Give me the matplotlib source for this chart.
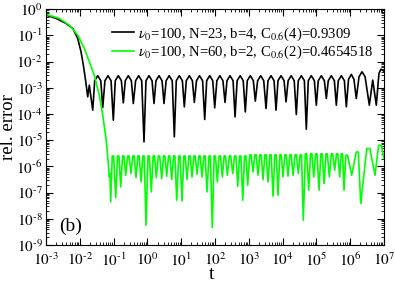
import numpy as np
import matplotlib
matplotlib.use("Agg")
import matplotlib.pyplot as plt

# --- values (log10 t, log10 rel. error) ---
# black: nu0=100, N=23, b=4
black_decay_logt = [-3.000, -2.704, -2.408, -2.210, -2.062, -1.964, -1.896, -1.837]
black_decay_loge = [-0.229, -0.355, -0.546, -0.737, -1.118, -1.630, -2.137, -2.645]

black_dip_logt = [-1.766, -1.618, -1.322, -1.009, -0.713, -0.417, -0.101, 0.195, 0.491, 0.796,
                  1.092, 1.388, 1.695, 1.991, 2.296, 2.592, 2.896, 3.192, 3.509, 3.805,
                  4.101, 4.405, 4.701, 4.997, 5.293, 5.589, 5.885, 6.180, 6.565, 6.772]
black_dip_loge = [-3.347, -3.855, -3.752, -4.237, -3.576, -3.599, -5.065, -3.599, -3.599, -4.874,
                  -3.729, -3.561, -4.210, -3.767, -3.561, -4.111, -3.920, -3.511, -3.790, -3.855,
                  -3.538, -4.019, -4.580, -3.664, -3.408, -3.664, -3.729, -3.408, -3.664, -3.664]

black_top_logt = [-1.719,
                  -1.560, -1.470, -1.380, -1.256, -1.166, -1.076, -0.951, -0.861, -0.771, -0.655, -0.565, -0.475, -0.349, -0.259, -0.169,
                  -0.043, 0.047, 0.137, 0.253, 0.343, 0.433, 0.554, 0.644, 0.734, 0.854, 0.944, 1.034, 1.150, 1.240, 1.330,
                  1.452, 1.542, 1.632, 1.753, 1.843, 1.933, 2.054, 2.144, 2.234, 2.354, 2.444, 2.534, 2.654, 2.744, 2.834,
                  2.954, 3.044, 3.134, 3.261, 3.351, 3.441, 3.567, 3.657, 3.747, 3.863, 3.953, 4.043, 4.163, 4.253, 4.343,
                  4.463, 4.553, 4.643, 4.759, 4.849, 4.939, 5.055, 5.145, 5.235, 5.351, 5.441, 5.531, 5.647, 5.737, 5.827,
                  5.950, 6.033, 6.110, 6.260, 6.349, 6.440, 6.666, 6.850, 6.911, 7.000]
black_top_loge = [-2.90,
                  -2.73, -2.54, -2.73, -2.73, -2.54, -2.73, -2.73, -2.54, -2.73, -2.73, -2.54, -2.73, -2.73, -2.54, -2.73,
                  -2.73, -2.54, -2.73, -2.73, -2.54, -2.73, -2.73, -2.54, -2.73, -2.73, -2.54, -2.73, -2.73, -2.54, -2.73,
                  -2.73, -2.54, -2.73, -2.73, -2.54, -2.73, -2.73, -2.54, -2.73, -2.73, -2.54, -2.73, -2.73, -2.54, -2.73,
                  -2.73, -2.54, -2.73, -2.73, -2.54, -2.73, -2.73, -2.54, -2.73, -2.73, -2.54, -2.73, -2.73, -2.54, -2.73,
                  -2.73, -2.54, -2.73, -2.73, -2.54, -2.73, -2.73, -2.54, -2.73, -2.73, -2.54, -2.73, -2.73, -2.54, -2.73,
                  -2.68, -2.49, -2.68, -2.58, -2.39, -2.58, -2.71, -2.45, -2.29, -2.37]

# green: nu0=100, N=60, b=2
green_decay_logt = [-3.000, -2.607, -2.311, -2.062, -1.867, -1.719, -1.571, -1.423, -1.322,
                    -1.225, -1.166, -1.127, -1.110]
green_decay_loge = [-0.202, -0.355, -0.611, -0.992, -1.500, -2.011, -2.519, -3.282, -4.046,
                    -4.935, -5.763, -6.401, -6.250]

green_dip_logt = [-1.086, -0.938, -0.790, -0.642, -0.485, -0.337, -0.189, -0.041,
                  0.115, 0.263, 0.423, 0.571, 0.719, 0.867,
                  1.024, 1.172, 1.320, 1.467, 1.615, 1.763, 1.920,
                  2.068, 2.216, 2.364, 2.524, 2.672, 2.820, 2.967,
                  3.124, 3.272, 3.420, 3.568, 3.716, 3.864,
                  4.012, 4.160, 4.308, 4.464, 4.612, 4.772, 4.920,
                  5.077, 5.225, 5.382, 5.541, 5.689, 5.817,
                  6.044, 6.311, 6.734, 7.000]
green_dip_loge = [-7.355, -7.187, -6.782, -6.336, -6.271, -6.424, -6.592, -8.244,
                  -6.973, -6.424, -6.462, -6.374, -6.500, -7.290,
                  -7.317, -6.500, -6.401, -6.298, -6.401, -6.973, -8.332,
                  -6.592, -6.401, -6.336, -6.271, -6.756, -7.290, -6.718,
                  -6.210, -6.336, -6.500, -6.592, -7.137, -7.099,
                  -6.401, -6.374, -6.336, -6.271, -8.053, -6.908, -6.401,
                  -6.908, -6.653, -6.401, -6.145, -6.401, -6.908,
                  -6.336, -7.416, -6.336, -5.687]

green_top_logt = [-1.040, -1.000, -0.884, -0.844, -0.736, -0.696, -0.584, -0.544, -0.431, -0.391,
                  -0.283, -0.243, -0.135, -0.095, 0.017, 0.057, 0.169, 0.209, 0.323, 0.363,
                  0.477, 0.517, 0.625, 0.665, 0.773, 0.813, 0.926, 0.966, 1.078, 1.118,
                  1.226, 1.266, 1.374, 1.414, 1.521, 1.561, 1.669, 1.709, 1.822, 1.862,
                  1.974, 2.014, 2.122, 2.162, 2.270, 2.310, 2.424, 2.464, 2.578, 2.618,
                  2.726, 2.766, 2.874, 2.914, 3.026, 3.066, 3.178, 3.218, 3.326, 3.366,
                  3.474, 3.514, 3.622, 3.662, 3.770, 3.810, 3.918, 3.958, 4.066, 4.106,
                  4.214, 4.254, 4.366, 4.406, 4.518, 4.558, 4.672, 4.712, 4.826, 4.866,
                  4.978, 5.018, 5.131, 5.171, 5.283, 5.323, 5.441, 5.481, 5.595, 5.635,
                  5.733, 5.773, 5.870, 5.920, 6.180, 6.240, 6.490, 6.580, 6.840, 6.920]
green_top_loge = [-5.60, -5.60, -5.60, -5.60, -5.60, -5.60, -5.60, -5.60, -5.60, -5.60,
                  -5.60, -5.60, -5.60, -5.60, -5.60, -5.60, -5.60, -5.60, -5.60, -5.60,
                  -5.60, -5.60, -5.60, -5.60, -5.60, -5.60, -5.60, -5.60, -5.60, -5.60,
                  -5.60, -5.60, -5.60, -5.60, -5.60, -5.60, -5.60, -5.60, -5.60, -5.60,
                  -5.60, -5.60, -5.60, -5.60, -5.60, -5.60, -5.60, -5.60, -5.60, -5.60,
                  -5.60, -5.60, -5.60, -5.60, -5.56, -5.56, -5.56, -5.56, -5.56, -5.56,
                  -5.56, -5.56, -5.56, -5.56, -5.56, -5.56, -5.56, -5.56, -5.56, -5.56,
                  -5.56, -5.56, -5.56, -5.56, -5.56, -5.56, -5.52, -5.52, -5.52, -5.52,
                  -5.52, -5.52, -5.52, -5.52, -5.52, -5.52, -5.52, -5.52, -5.52, -5.52,
                  -5.52, -5.52, -5.58, -5.57, -5.45, -5.45, -5.32, -5.32, -5.20, -5.20]

x_exponents = [-3, -2, -1, 0, 1, 2, 3, 4, 5, 6, 7]
y_exponents = [-9, -8, -7, -6, -5, -4, -3, -2, -1, 0]

black_label = r"$\nu_0$=100, N=23, b=4, C$_{0.6}$(4)=0.9309"
green_label = r"$\nu_0$=100, N=60, b=2, C$_{0.6}$(2)=0.4654518"


def build(parts):
    # merge the read points of one curve and order them along t
    lt = np.concatenate([np.asarray(p[0], float) for p in parts])
    le = np.concatenate([np.asarray(p[1], float) for p in parts])
    order = np.argsort(lt, kind="stable")
    return 10.0 ** lt[order], 10.0 ** le[order]


def pow_label(k):
    # short hyphen instead of the wide math minus, as in the reference
    s = str(k).replace('-', '\u2010')
    return r"$10^{%s}$" % s


bt, be = build([(black_decay_logt, black_decay_loge),
                (black_dip_logt, black_dip_loge),
                (black_top_logt, black_top_loge)])
gt, ge = build([(green_decay_logt, green_decay_loge),
                (green_dip_logt, green_dip_loge),
                (green_top_logt, green_top_loge)])

plt.rcParams['font.family'] = ['Liberation Serif', 'DejaVu Serif']
plt.rcParams['mathtext.fontset'] = 'stix'

fig = plt.figure(figsize=(3.95, 2.84), dpi=100)
ax = fig.add_axes([0.1165, 0.137, 0.8557, 0.831])

ax.plot(bt, be, color='black', lw=1.2, label=black_label)
ax.plot(gt, ge, color='#00ff00', lw=1.2, label=green_label)

ax.set_xscale('log')
ax.set_yscale('log')
ax.set_xlim(1e-3, 1e7)
ax.set_ylim(1e-9, 1e0)
ax.set_xticks([10.0 ** k for k in x_exponents])
ax.set_xticklabels([pow_label(k) for k in x_exponents])
ax.set_yticks([10.0 ** k for k in y_exponents])
ax.set_yticklabels([pow_label(k) for k in y_exponents])
ax.xaxis.set_minor_locator(matplotlib.ticker.LogLocator(base=10, subs=np.arange(2, 10), numticks=20))
ax.yaxis.set_minor_locator(matplotlib.ticker.LogLocator(base=10, subs=np.arange(2, 10), numticks=20))
ax.xaxis.set_minor_formatter(matplotlib.ticker.NullFormatter())
ax.yaxis.set_minor_formatter(matplotlib.ticker.NullFormatter())
ax.tick_params(which='both', direction='in', top=True, right=True, labelsize=11)
ax.tick_params(which='major', length=5, width=0.8)
ax.tick_params(which='minor', length=2.5, width=0.6)
ax.tick_params(axis='y', which='major', pad=2.5)
ax.tick_params(axis='x', which='major', pad=4.5)

ax.set_xlabel('t', fontsize=14)
ax.xaxis.set_label_coords(0.49, -0.09)
ax.set_ylabel('rel. error', fontsize=13.5)
ax.yaxis.set_label_coords(-0.112, 0.5)
ax.yaxis.label.set_va('center')

ax.legend(loc='upper right', bbox_to_anchor=(1.0, 0.975), frameon=False, fontsize=10.6,
          handlelength=1.5, handletextpad=0.3, labelspacing=0.1, borderaxespad=0.3)
ax.text(0.04, 0.06, '(b)', transform=ax.transAxes, fontsize=14)

plt.savefig('out.png', dpi=100)
